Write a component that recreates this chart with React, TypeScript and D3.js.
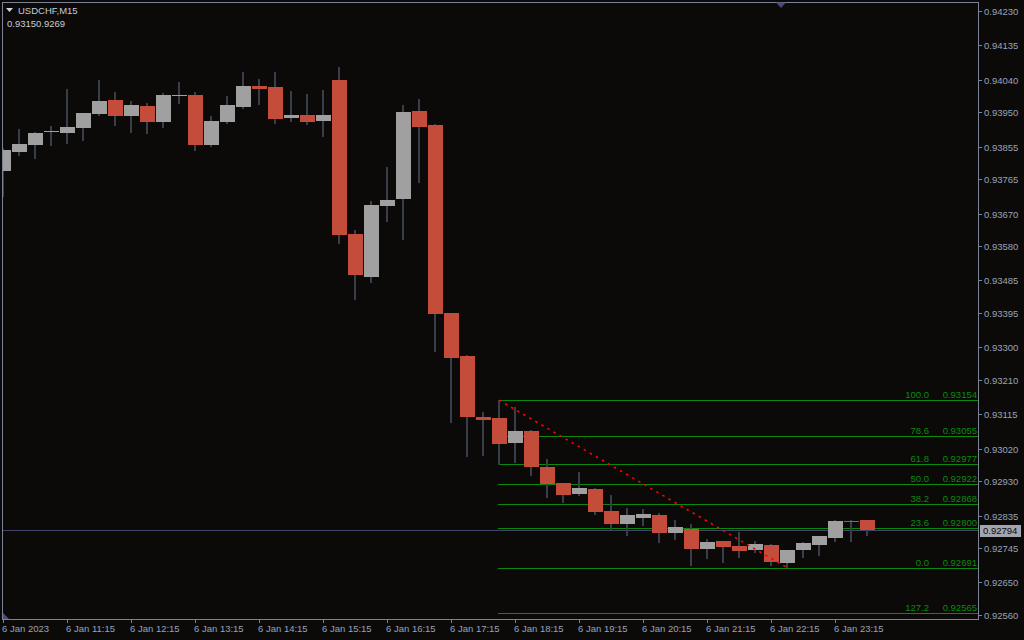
import React from "react";
import * as d3 from "d3";

const symbolTitle = "USDCHF,M15";
const subTitle = "0.93150.9269";

const opens = [0.93788,0.93840,0.93859,0.93895,0.93893,0.93906,0.93945,0.93984,0.93940,0.93967,0.93923,0.93995,0.93998,0.93859,0.93923,0.93965,0.94023,0.94020,0.93934,0.93942,0.93926,0.94039,0.93613,0.93495,0.93691,0.93710,0.93954,0.93915,0.93395,0.93276,0.93107,0.93105,0.93036,0.93069,0.92969,0.92925,0.92895,0.92908,0.92848,0.92812,0.92828,0.92836,0.92787,0.92798,0.92742,0.92765,0.92751,0.92740,0.92754,0.92704,0.92740,0.92754,0.92773,0.92819,0.92823];
const highs = [0.93851,0.93904,0.93895,0.93912,0.94014,0.93948,0.94039,0.94006,0.93981,0.93976,0.94003,0.94034,0.94006,0.93940,0.93995,0.94061,0.94042,0.94061,0.94009,0.94000,0.94012,0.94075,0.93624,0.93705,0.93799,0.93970,0.93987,0.93918,0.93395,0.93279,0.93121,0.93154,0.93135,0.93072,0.92991,0.92925,0.92955,0.92911,0.92892,0.92856,0.92853,0.92842,0.92823,0.92812,0.92770,0.92765,0.92789,0.92765,0.92756,0.92740,0.92762,0.92778,0.92823,0.92823,0.92823];
const lows = [0.93716,0.93829,0.93821,0.93857,0.93862,0.93871,0.93940,0.93912,0.93893,0.93890,0.93906,0.93973,0.93843,0.93854,0.93918,0.93959,0.93970,0.93918,0.93923,0.93915,0.93882,0.93586,0.93431,0.93478,0.93647,0.93597,0.93754,0.93287,0.93091,0.92997,0.93000,0.92975,0.92980,0.92944,0.92883,0.92870,0.92889,0.92836,0.92795,0.92778,0.92806,0.92759,0.92767,0.92695,0.92715,0.92704,0.92718,0.92731,0.92695,0.92691,0.92718,0.92723,0.92762,0.92762,0.92778];
const closes = [0.93846,0.93862,0.93893,0.93898,0.93909,0.93948,0.93981,0.93940,0.93970,0.93923,0.93998,0.93998,0.93859,0.93926,0.93970,0.94023,0.94014,0.93931,0.93942,0.93923,0.93942,0.93611,0.93500,0.93694,0.93707,0.93951,0.93909,0.93392,0.93271,0.93107,0.93099,0.93033,0.93069,0.92969,0.92922,0.92892,0.92911,0.92845,0.92812,0.92836,0.92839,0.92787,0.92803,0.92742,0.92762,0.92748,0.92737,0.92756,0.92707,0.92740,0.92759,0.92778,0.92820,0.92817,0.92794];

const priceTicks = ["0.94230","0.94135","0.94040","0.93950","0.93855","0.93765","0.93670","0.93580","0.93485","0.93395","0.93300","0.93210","0.93115","0.93020","0.92930","0.92835","0.92745","0.92650","0.92560"];
const timeTickIndex = [0,4,8,12,16,20,24,28,32,36,40,44,48,52];
const timeTickLabels = ["6 Jan 2023","6 Jan 11:15","6 Jan 12:15","6 Jan 13:15","6 Jan 14:15","6 Jan 15:15","6 Jan 16:15","6 Jan 17:15","6 Jan 18:15","6 Jan 19:15","6 Jan 20:15","6 Jan 21:15","6 Jan 22:15","6 Jan 23:15"];

const fibLevels = ["100.0","78.6","61.8","50.0","38.2","23.6","0.0","127.2"];
const fibPrices = [0.93154,0.93055,0.92977,0.92922,0.92868,0.92800,0.92691,0.92565];
const fibStartIndex = 31;
const trendFrom = { index: 31, price: 0.93154 };
const trendTo = { index: 49, price: 0.92691 };
const currentPrice = 0.92794;

const BG = "#0c0a09";
const BORDER = "#7d8396";
const AXIS_TEXT = "#9aa3b6";
const BULL = "#a0a0a0";
const BEAR = "#c44c3b";
const WICK = "#3a3e4b";
const FIB = "#0a8a0a";
const FONT = "'Liberation Sans', Arial, sans-serif";

export default function App() {
  const W = 1024, H = 640;
  const left = 2.5, right = 978.5, top = 2.5, bottom = 619.5;
  const y = d3.scaleLinear().domain([0.9256, 0.9423]).range([615, 11]);
  const x = d3.scaleLinear().domain([0, 1]).range([3, 19]);
  const n = opens.length;
  const idx = d3.range(n);

  return (
    <svg width={W} height={H} style={{ position: "absolute", left: 0, top: 0, display: "block" }}>
      <rect x={0} y={0} width={W} height={H} fill={BG} />
      <defs>
        <clipPath id="plot">
          <rect x={3} y={3} width={975} height={616} />
        </clipPath>
      </defs>
      <g clipPath="url(#plot)">
        {/* current price line */}
        <line x1={left} x2={right} y1={Math.round(y(currentPrice)) + 0.5} y2={Math.round(y(currentPrice)) + 0.5} stroke="#44446a" strokeWidth={1} />
        {/* fib lines */}
        {fibPrices.map((p, k) => (
          <line key={"fl" + k} x1={x(fibStartIndex) - 1} x2={right} y1={Math.round(y(p)) + 0.5} y2={Math.round(y(p)) + 0.5} stroke={FIB} strokeWidth={1} />
        ))}
        {/* candles */}
        {idx.map((i) => {
          const cx = Math.round(x(i));
          const o = opens[i], c = closes[i];
          const bull = c >= o;
          const yt = Math.round(y(Math.max(o, c)));
          const yb = Math.round(y(Math.min(o, c)));
          const hgt = Math.max(1, yb - yt);
          return (
            <g key={"c" + i} shapeRendering="crispEdges">
              <rect x={cx - 1} y={Math.round(y(highs[i]))} width={2} height={Math.max(1, Math.round(y(lows[i])) - Math.round(y(highs[i])))} fill={WICK} />
              <rect x={cx - 7} y={yt} width={15} height={hgt} fill={bull ? BULL : BEAR} />
            </g>
          );
        })}
        {/* trend line */}
        <line x1={x(trendFrom.index)} y1={y(trendFrom.price)} x2={x(trendTo.index)} y2={y(trendTo.price)} stroke="#ff0000" strokeWidth={1.6} strokeDasharray="2.5 4.5" />
        {/* fib labels */}
        {fibPrices.map((p, k) => (
          <g key={"ft" + k} fontFamily={FONT} fontSize={9.5} fill={FIB} textAnchor="end">
            <text x={929} y={Math.round(y(p)) - 2}>{fibLevels[k]}</text>
            <text x={977} y={Math.round(y(p)) - 2}>{p.toFixed(5)}</text>
          </g>
        ))}
      </g>

      {/* frame */}
      <rect x={left} y={top} width={right - left} height={bottom - top} fill="none" stroke={BORDER} strokeWidth={1} />

      {/* header */}
      <path d="M6,8 L13,8 L9.5,12 Z" fill="#d0d4dc" />
      <text x={18} y={14} fontFamily={FONT} fontSize={9.5} fill="#c8ccd6">{symbolTitle}</text>
      <text x={7} y={27} fontFamily={FONT} fontSize={9.5} fill="#c8ccd6">{subTitle}</text>

      {/* markers */}
      <path d="M776,2.5 L786,2.5 L781,8 Z" fill="#454878" />
      <path d="M3,613 L3,619 L9,619 Z" fill="#4a4c80" />

      {/* right axis */}
      {priceTicks.map((t, k) => {
        const ty = Math.round(y(+t)) + 0.5;
        return (
          <g key={"pt" + k}>
            <line x1={978.5} x2={982} y1={ty} y2={ty} stroke={BORDER} />
            <text x={984} y={ty} dy="0.35em" fontFamily={FONT} fontSize={9.5} fill={AXIS_TEXT}>{t}</text>
          </g>
        );
      })}
      {/* current price label */}
      <rect x={980} y={Math.round(y(currentPrice)) - 5} width={41} height={12} fill="#a3a6ae" />
      <text x={983} y={Math.round(y(currentPrice)) + 1} dy="0.35em" fontFamily={FONT} fontSize={9.5} fill="#0c0a09">{currentPrice.toFixed(5)}</text>

      {/* bottom axis */}
      {timeTickIndex.map((ti, k) => {
        const tx = Math.round(x(ti)) + 0.5;
        return (
          <g key={"tt" + k}>
            <line x1={tx} x2={tx} y1={619.5} y2={623} stroke={BORDER} />
            <text x={tx - 1.5} y={632} fontFamily={FONT} fontSize={9.5} fill={AXIS_TEXT}>{timeTickLabels[k]}</text>
          </g>
        );
      })}
    </svg>
  );
}
